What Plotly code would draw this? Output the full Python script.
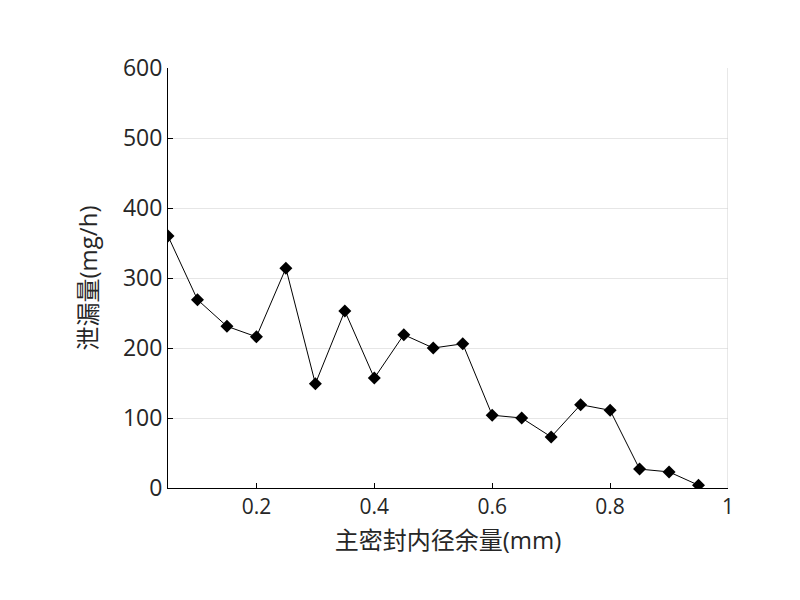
import plotly.graph_objects as go

x = [0.05,0.10,0.15,0.20,0.25,0.30,0.35,0.40,0.45,0.50,0.55,0.60,0.65,0.70,0.75,0.80,0.85,0.90,0.95]
y = [360,269,231,216,314,149,253,157,219,200,206,104,100,73,119,111,27,23,4]

fig = go.Figure(go.Scatter(x=x, y=y, mode="lines+markers",
    line=dict(color="black", width=1),
    marker=dict(symbol="diamond", size=10, color="black")))

font = "Open Sans, Noto Sans CJK SC"
fig.update_layout(width=800, height=600, paper_bgcolor="white", plot_bgcolor="white",
    margin=dict(l=160, r=80, t=60, b=120, autoexpand=False), showlegend=False,
    font=dict(family=font, size=23, color="#262626"))
fig.update_xaxes(range=[0.05, 1], tickvals=[0.2,0.4,0.6,0.8,1], ticktext=["0.2","0.4","0.6","0.8","1"],
    showgrid=False, showline=True, linecolor="black", mirror=False, ticks="inside", ticklen=5,
    tickcolor="black", zeroline=False, automargin=False, tickfont=dict(size=21),
    title=dict(text="主密封内径余量(mm)", font=dict(size=24), standoff=12))
fig.update_yaxes(range=[0, 600], dtick=100, showgrid=True, gridcolor="#e6e6e6",
    showline=True, linecolor="black", ticks="inside", ticklen=5, tickcolor="black",
    zeroline=False, automargin=False, tickfont=dict(size=23),
    title=dict(text="泄漏量(mg/h)", font=dict(size=24), standoff=18))
fig.add_shape(type="line", xref="x", yref="paper", x0=1, x1=1, y0=0, y1=1, line=dict(color="#d0d0d0", width=1))
fig.write_html("out.html")
